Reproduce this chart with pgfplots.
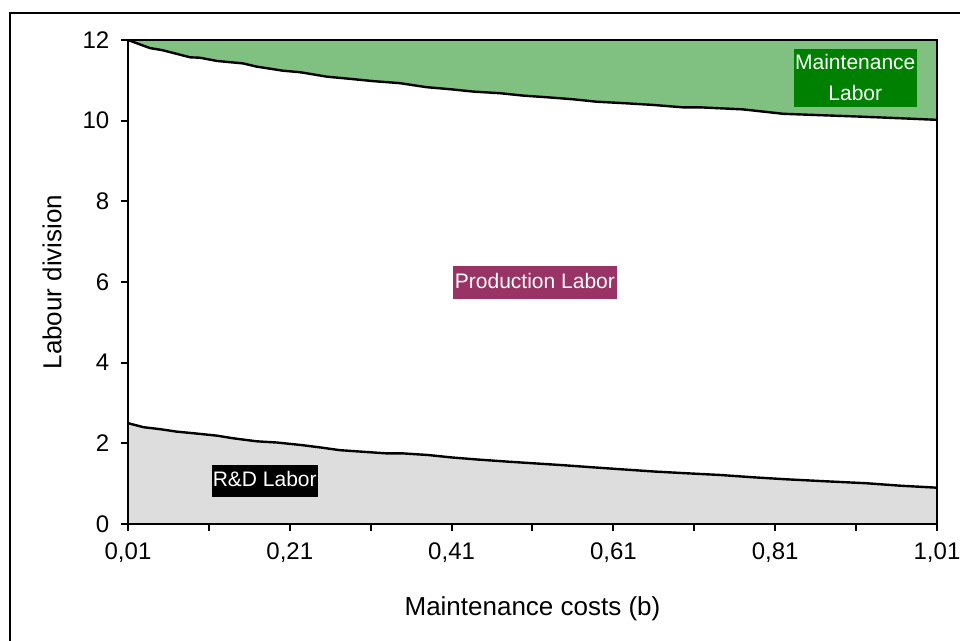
\documentclass[border=0pt]{standalone}
\usepackage{fontspec}
\setmainfont{Liberation Sans}
\usepackage{pgfplots}
\pgfplotsset{compat=1.18}

\definecolor{maintfill}{RGB}{128,192,128}
\definecolor{rdfill}{RGB}{221,221,221}
\definecolor{maintbox}{RGB}{0,128,0}
\definecolor{prodbox}{RGB}{153,51,102}

\begin{document}
\begin{tikzpicture}
\useasboundingbox (-64pt,-58.5pt) rectangle (416pt,262pt);
% outer chart frame (right and bottom edges fall outside the picture)
\draw[line width=1.25pt] (-59pt,-80pt) -- (-59pt,255.5pt) -- (440pt,255.5pt);

\begin{axis}[
    at={(0pt,0pt)}, anchor=south west,
    scale only axis,
    width=404.5pt, height=242pt,
    xmin=0.01, xmax=1.01,
    ymin=0, ymax=12,
    axis line style={line width=1pt},
    axis on top,
    tick style={line width=1pt, black},
    tick align=outside,
    major tick length=3.5pt,
    xtick pos=left, ytick pos=left,
    xtick={0.01,0.11,0.21,0.31,0.41,0.51,0.61,0.71,0.81,0.91,1.01},
    xticklabels={{0,01},{},{0,21},{},{0,41},{},{0,61},{},{0,81},{},{1,01}},
    ytick={0,2,4,6,8,10,12},
    /pgf/number format/assume math mode=true,
    ticklabel style={font=\fontsize{12}{14}\selectfont},
    xticklabel style={yshift=-2.5pt},
    yticklabel style={xshift=-2.3pt},
    xlabel={Maintenance costs (b)},
    ylabel={Labour division},
    label style={font=\fontsize{13}{15}\selectfont},
    x label style={at={(axis description cs:0.5,0)}, anchor=center, yshift=-42.5pt},
    y label style={at={(axis description cs:0,0.5)}, anchor=center, yshift=38pt},
]

% Maintenance labour band (from the upper curve up to 12)
\addplot[draw=none, fill=maintfill] coordinates {
(0.01,12.00)(0.037,11.80)(0.052,11.75)(0.087,11.57)(0.099,11.56)(0.12,11.48)
(0.152,11.42)(0.169,11.34)(0.201,11.24)(0.223,11.20)(0.256,11.09)(0.288,11.03)
(0.313,10.98)(0.346,10.93)(0.379,10.83)(0.408,10.78)(0.437,10.72)(0.470,10.68)
(0.499,10.62)(0.528,10.58)(0.560,10.53)(0.589,10.47)(0.626,10.43)(0.659,10.39)
(0.696,10.33)(0.717,10.33)(0.770,10.28)(0.82,10.17)(0.86,10.14)(0.915,10.10)
(0.964,10.06)(1.01,10.02)(1.01,12)(0.01,12)
};

% R&D labour band (from 0 up to the lower curve)
\addplot[draw=none, fill=rdfill] coordinates {
(0.01,0)
(0.01,2.50)(0.029,2.40)(0.050,2.35)(0.070,2.29)(0.091,2.25)(0.120,2.19)
(0.140,2.125)(0.169,2.05)(0.194,2.02)(0.223,1.96)(0.247,1.90)(0.272,1.83)
(0.301,1.79)(0.330,1.75)(0.350,1.75)(0.381,1.71)(0.410,1.65)(0.441,1.60)
(0.480,1.545)(0.511,1.505)(0.550,1.455)(0.581,1.41)(0.620,1.356)(0.661,1.30)
(0.701,1.257)(0.742,1.215)(0.781,1.16)(0.822,1.11)(0.871,1.06)(0.923,1.01)
(0.964,0.95)(1.01,0.90)
(1.01,0)
};

% boundary lines
\addplot[black, line width=1.2pt, line join=round] coordinates {
(0.01,12.00)(0.037,11.80)(0.052,11.75)(0.087,11.57)(0.099,11.56)(0.12,11.48)
(0.152,11.42)(0.169,11.34)(0.201,11.24)(0.223,11.20)(0.256,11.09)(0.288,11.03)
(0.313,10.98)(0.346,10.93)(0.379,10.83)(0.408,10.78)(0.437,10.72)(0.470,10.68)
(0.499,10.62)(0.528,10.58)(0.560,10.53)(0.589,10.47)(0.626,10.43)(0.659,10.39)
(0.696,10.33)(0.717,10.33)(0.770,10.28)(0.82,10.17)(0.86,10.14)(0.915,10.10)
(0.964,10.06)(1.01,10.02)
};
\addplot[black, line width=1.2pt, line join=round] coordinates {
(0.01,2.50)(0.029,2.40)(0.050,2.35)(0.070,2.29)(0.091,2.25)(0.120,2.19)
(0.140,2.125)(0.169,2.05)(0.194,2.02)(0.223,1.96)(0.247,1.90)(0.272,1.83)
(0.301,1.79)(0.330,1.75)(0.350,1.75)(0.381,1.71)(0.410,1.65)(0.441,1.60)
(0.480,1.545)(0.511,1.505)(0.550,1.455)(0.581,1.41)(0.620,1.356)(0.661,1.30)
(0.701,1.257)(0.742,1.215)(0.781,1.16)(0.822,1.11)(0.871,1.06)(0.923,1.01)
(0.964,0.95)(1.01,0.90)
};

\node[fill=maintbox, text=white, inner xsep=0.8pt, inner ysep=2.8pt, align=center,
      font=\fontsize{10.5}{15.5}\selectfont] at (axis cs:0.909,11.06) {Maintenance\\Labor};
\node[fill=prodbox, text=white, inner xsep=1.2pt, inner ysep=3.2pt,
      text height=7.8pt, text depth=2.2pt,
      font=\fontsize{10.5}{12}\selectfont] at (axis cs:0.513,5.98) {Production Labor};
\node[fill=black, text=white, inner xsep=0.5pt, inner ysep=3.2pt,
      text height=7.8pt, text depth=2.2pt,
      font=\fontsize{10.5}{12}\selectfont] at (axis cs:0.179,1.066) {R\&D Labor};
\end{axis}
\end{tikzpicture}
\end{document}
